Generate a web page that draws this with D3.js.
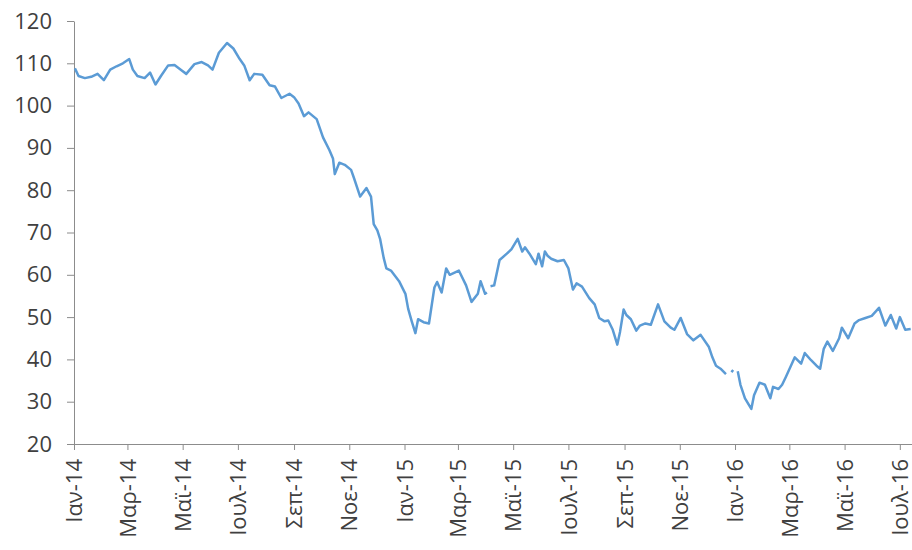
<!DOCTYPE html>
<html>
<head>
<meta charset="utf-8">
<script src="https://cdn.jsdelivr.net/npm/d3@7"></script>
<style>
  body { margin: 0; background: #fff; }
  text { font-family: "Open Sans", sans-serif; }
</style>
</head>
<body>
<div id="chart"></div>
<script>
// daily close (null = no quote, line breaks there)
const dates = [
  "2014-01-02","2014-01-06","2014-01-13","2014-01-20","2014-01-27",
  "2014-02-03","2014-02-10","2014-02-17","2014-02-24",
  "2014-03-03","2014-03-07","2014-03-12","2014-03-20","2014-03-26",
  "2014-04-01","2014-04-07","2014-04-15","2014-04-22","2014-04-30",
  "2014-05-05","2014-05-14","2014-05-22","2014-05-29",
  "2014-06-03","2014-06-10","2014-06-19","2014-06-26",
  "2014-07-03","2014-07-08","2014-07-14","2014-07-19","2014-07-28",
  "2014-08-05","2014-08-11","2014-08-18","2014-08-27",
  "2014-09-01","2014-09-06","2014-09-12","2014-09-17","2014-09-26",
  "2014-10-03","2014-10-10","2014-10-14","2014-10-16","2014-10-21","2014-10-27",
  "2014-11-03","2014-11-06","2014-11-13","2014-11-20","2014-11-25","2014-11-28",
  "2014-12-02","2014-12-05","2014-12-09","2014-12-12","2014-12-17","2014-12-26",
  "2015-01-02","2015-01-05","2015-01-09","2015-01-13","2015-01-16","2015-01-22","2015-01-28",
  "2015-02-03","2015-02-06","2015-02-11","2015-02-16","2015-02-20",
  "2015-03-02","2015-03-10","2015-03-16","2015-03-23","2015-03-26","2015-03-31",
  "2015-04-02","2015-04-03","2015-04-06","2015-04-10","2015-04-16","2015-04-24","2015-04-29",
  "2015-05-06","2015-05-11","2015-05-14","2015-05-19","2015-05-26","2015-05-29",
  "2015-06-02","2015-06-05","2015-06-08","2015-06-12","2015-06-19","2015-06-26",
  "2015-07-01","2015-07-06","2015-07-10","2015-07-16","2015-07-24","2015-07-30",
  "2015-08-04","2015-08-10","2015-08-14","2015-08-19","2015-08-24","2015-08-27","2015-08-31",
  "2015-09-03","2015-09-08","2015-09-14","2015-09-18","2015-09-24","2015-09-30",
  "2015-10-08","2015-10-15","2015-10-22","2015-10-26",
  "2015-11-02","2015-11-09","2015-11-16","2015-11-24",
  "2015-12-03","2015-12-07","2015-12-11","2015-12-16","2015-12-22","2015-12-25","2015-12-28","2015-12-30",
  "2016-01-01","2016-01-04","2016-01-07","2016-01-12","2016-01-19","2016-01-22","2016-01-28",
  "2016-02-03","2016-02-09","2016-02-12","2016-02-18","2016-02-22","2016-02-26",
  "2016-03-07","2016-03-14","2016-03-18","2016-03-25","2016-03-31",
  "2016-04-04","2016-04-08","2016-04-12","2016-04-18","2016-04-25","2016-04-28",
  "2016-05-05","2016-05-12","2016-05-17","2016-05-24","2016-05-31",
  "2016-06-08","2016-06-15","2016-06-21","2016-06-27",
  "2016-07-01","2016-07-07","2016-07-13"
];
const prices = [
  108.8, 107.0, 106.5, 106.8, 107.5,
  106.0, 108.5, 109.3, 110.0,
  111.0, 108.5, 107.0, 106.5, 107.8,
  105.0, 107.0, 109.5, 109.6, 108.3,
  107.5, 109.8, 110.3, 109.5,
  108.5, 112.5, 114.8, 113.5,
  111.0, 109.5, 106.0, 107.5, 107.3,
  104.8, 104.5, 101.8, 102.8,
  102.0, 100.5, 97.5, 98.4, 96.8,
  92.5, 89.5, 87.5, 83.8, 86.5, 86.0,
  84.8, 83.0, 78.5, 80.5, 78.5, 72.0,
  70.5, 68.5, 64.0, 61.5, 61.0, 58.5,
  55.5, 52.0, 49.0, 46.2, 49.5, 48.8, 48.5,
  57.0, 58.3, 55.8, 61.5, 60.0,
  61.0, 57.5, 53.6, 55.5, 58.5, 55.5,
  55.8, null, 57.3, 57.5, 63.5, 65.0, 66.0,
  68.5, 65.5, 66.5, 65.0, 62.5, 65.0,
  62.0, 65.5, 64.5, 63.8, 63.2, 63.5,
  61.5, 56.5, 58.0, 57.2, 54.5, 53.0,
  49.8, 49.0, 49.2, 47.0, 43.5, 46.5, 51.8,
  50.5, 49.5, 46.8, 48.0, 48.5, 48.2,
  53.0, 49.0, 47.5, 47.0,
  49.8, 46.0, 44.5, 45.8,
  43.0, 40.5, 38.5, 37.8, 36.5, null, 37.0, 37.5,
  null, 37.2, 34.0, 30.8, 28.3, 31.5, 34.5,
  34.0, 30.8, 33.5, 33.0, 34.0, 35.8,
  40.5, 39.0, 41.5, 39.8, 38.5,
  37.8, 42.5, 44.2, 42.0, 45.0, 47.5,
  45.0, 48.5, 49.3, 49.8, 50.3,
  52.2, 48.0, 50.5, 47.3,
  50.0, 47.0, 47.2
];
const yTicks = [20, 30, 40, 50, 60, 70, 80, 90, 100, 110, 120];
const xTickLabels = [
  "Ιαν-14","Μαρ-14","Μαϊ-14","Ιουλ-14","Σεπ-14","Νοε-14",
  "Ιαν-15","Μαρ-15","Μαϊ-15","Ιουλ-15","Σεπ-15","Νοε-15",
  "Ιαν-16","Μαρ-16","Μαϊ-16","Ιουλ-16"
];

const width = 912, height = 550;
const margin = { top: 21, right: 0, bottom: 106, left: 74 };
const parse = d3.timeParse("%Y-%m-%d");

const data = dates.map((d, i) => ({ date: parse(d), value: prices[i] }));

const svg = d3.select("#chart").append("svg")
  .attr("width", width)
  .attr("height", height);

const x = d3.scaleTime()
  .domain([parse("2014-01-01"), parse("2016-07-15")])
  .range([margin.left, 912.5]);

const y = d3.scaleLinear()
  .domain([20, 120])
  .range([height - margin.bottom, margin.top]);

// y axis
const yAxis = svg.append("g")
  .attr("transform", "translate(" + margin.left + ",0)")
  .call(d3.axisLeft(y).tickValues(yTicks).tickSize(7).tickPadding(15).tickSizeOuter(0));
yAxis.select(".domain").attr("stroke", "#8c8c8c");
yAxis.selectAll(".tick line").attr("stroke", "#8c8c8c");
yAxis.selectAll("text")
  .style("font-size", "22px")
  .attr("fill", "#404040");

// x axis, one tick every two months
const xTickDates = d3.timeMonth.every(2).range(parse("2014-01-01"), parse("2016-07-02"));
const xAxis = svg.append("g")
  .attr("transform", "translate(0," + y(20) + ")")
  .call(d3.axisBottom(x)
    .tickValues(xTickDates)
    .tickFormat((d, i) => xTickLabels[i])
    .tickSize(6)
    .tickSizeOuter(0));
xAxis.select(".domain").attr("stroke", "#8c8c8c");
xAxis.selectAll(".tick line").attr("stroke", "#8c8c8c");
xAxis.selectAll("text")
  .attr("transform", "rotate(-90)")
  .attr("text-anchor", "end")
  .attr("x", -15)
  .attr("y", 0)
  .attr("dy", "0.35em")
  .style("font-size", "22px")
  .attr("fill", "#404040");

// price line
const line = d3.line()
  .defined(d => d.value !== null)
  .x(d => x(d.date))
  .y(d => y(d.value));

svg.append("path")
  .datum(data)
  .attr("fill", "none")
  .attr("stroke", "#5b9bd5")
  .attr("stroke-width", 2.5)
  .attr("stroke-linejoin", "round")
  .attr("d", line);
</script>
</body>
</html>
